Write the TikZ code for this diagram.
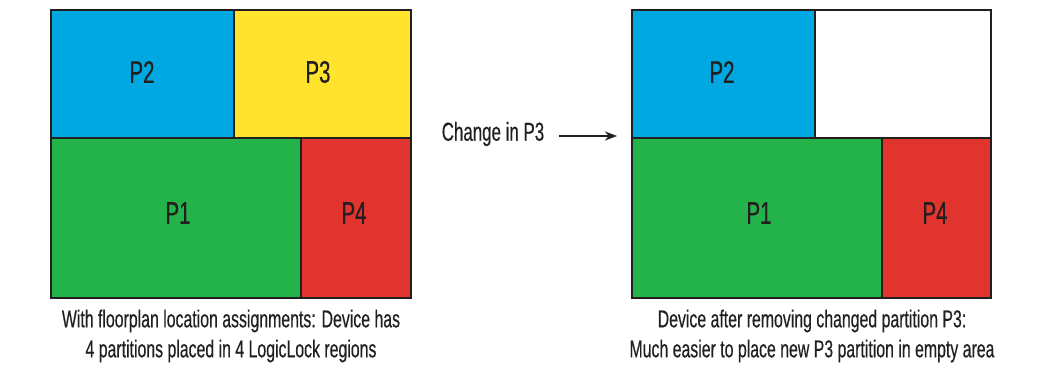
\documentclass[tikz,border=0pt]{standalone}
\usepackage{fontspec}
\setmainfont{Liberation Sans}[FakeStretch=0.65, FakeBold=0.4]
\usetikzlibrary{arrows.meta,positioning}
\definecolor{RegionInk}{HTML}{231F20}
\definecolor{RegionBlue}{HTML}{00A8E1}
\definecolor{RegionYellow}{HTML}{FFE32D}
\definecolor{RegionGreen}{HTML}{24B24B}
\definecolor{RegionRed}{HTML}{E1342E}
\tikzset{
    floor/diagram/.style={
        draw=RegionInk,
        text=RegionInk,
        line join=miter,
        every node/.style={inner sep=0pt, outer sep=0pt}
    },
    floor/region/.style={draw=RegionInk, line width=1.1pt},
    floor/tag/.style={font=\fontsize{23.5}{28}\selectfont},
    floor/caption/.style={
        font=\fontsize{18.3}{22.5}\selectfont, align=center
    },
    floor/map/.style={
        draw=RegionInk, line width=0.8pt,
        -{Stealth[length=3.2mm, width=2.4mm]}
    }
}

\begin{document}
\begin{tikzpicture}[floor/diagram, x=0.75pt, y=0.75pt]
    \useasboundingbox (0,0) rectangle (1059,373);
    % left device: all four partitions placed
    \draw[floor/region, fill=RegionBlue]   (51,235) rectangle (234,363);
    \draw[floor/region, fill=RegionYellow] (234,235) rectangle (411,363);
    \draw[floor/region, fill=RegionGreen]  (51,75) rectangle (301,235);
    \draw[floor/region, fill=RegionRed]    (301,75) rectangle (411,235);
    \node[floor/tag] (lP2) at (142,301) {P2};
    \node[floor/tag] (lP3) at (318,301) {P3};
    \node[floor/tag] (lP1) at (178,160) {P1};
    \node[floor/tag] (lP4) at (354,160) {P4};
    \node[floor/caption] (lcap) at (231,37) {With floorplan location assignments: Device has\\4 partitions placed in 4 LogicLock regions};
    % right device: P3 removed
    \draw[floor/region, fill=white]       (632,235) rectangle (991,363);
    \draw[floor/region, fill=RegionBlue]  (632,235) rectangle (815,363);
    \draw[floor/region, fill=RegionGreen] (632,75) rectangle (882,235);
    \draw[floor/region, fill=RegionRed]   (882,75) rectangle (991,235);
    \node[floor/tag] (rP2) at (722,301) {P2};
    \node[floor/tag] (rP1) at (759,160) {P1};
    \node[floor/tag] (rP4) at (935,160) {P4};
    \node[floor/caption] (rcap) at (812,37) {Device after removing changed partition P3:\\Much easier to place new P3 partition in empty area};
    % change arrow
    \node[floor/caption, font=\fontsize{19.5}{23}\selectfont] (change) at (493,239) {Change in P3};
    \coordinate (target) at (617,237);
    \draw[floor/map] ([xshift=11pt]change.east |- target) -- (target);
\end{tikzpicture}
\end{document}
